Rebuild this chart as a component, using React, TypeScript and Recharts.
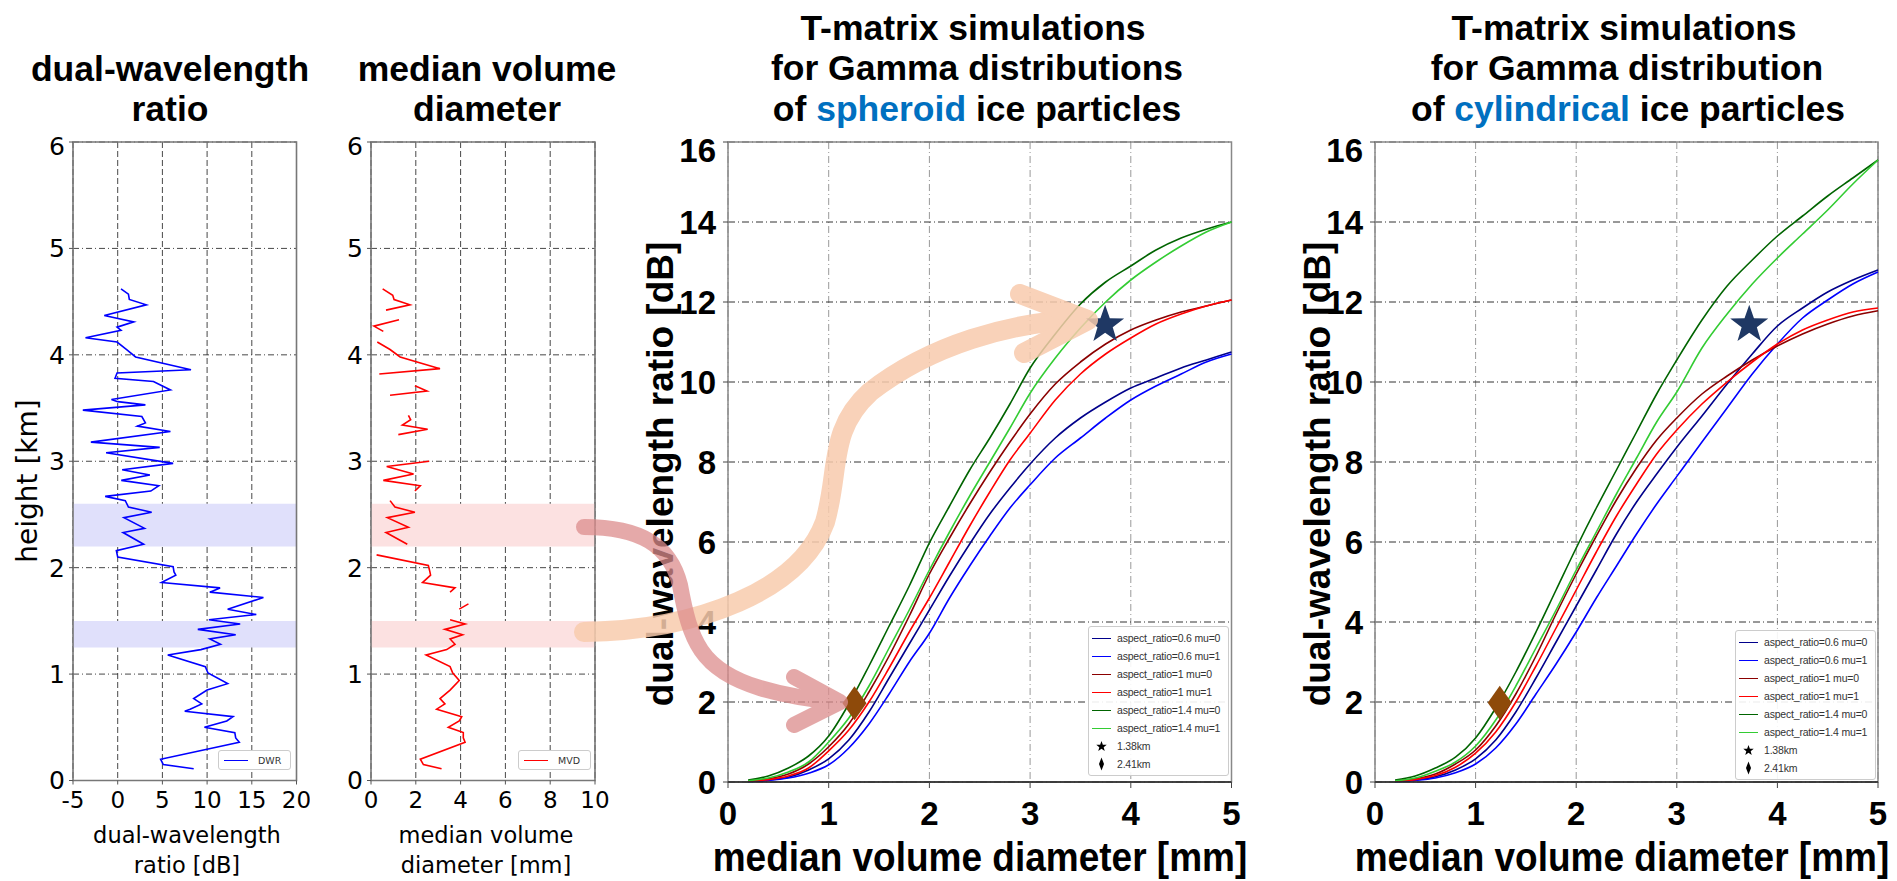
import React from 'react';
import {
  ComposedChart,
  ScatterChart,
  Line,
  Scatter,
  XAxis,
  YAxis,
  CartesianGrid,
  ReferenceArea,
} from 'recharts';

// ---- profile data (left two panels) ----
const dwrHeights = [
  4.62, 4.57, 4.52, 4.47, 4.37, 4.31, 4.26, 4.23, 4.16, 4.12, 4.05, 3.98, 3.86, 3.83, 3.78, 3.75, 3.67, 3.58,
  3.56, 3.53, 3.48, 3.42, 3.36, 3.33, 3.28, 3.18, 3.13, 3.08, 2.98, 2.92, 2.87, 2.82, 2.77, 2.72, 2.67, 2.63,
  2.57, 2.52, 2.47, 2.37, 2.33, 2.22, 2.16, 2.1, 2.01, 1.96, 1.93, 1.86, 1.81, 1.77, 1.72, 1.61, 1.56, 1.51,
  1.47, 1.42, 1.37, 1.33, 1.28, 1.23, 1.18, 1.07, 1.01, 0.91, 0.85, 0.77, 0.72, 0.67, 0.65, 0.6, 0.56, 0.5,
  0.45, 0.4, 0.36, 0.2, 0.15, 0.11,
];
const dwrValues = [
  0.37, 1.2, 1.3, 3.2, -1.5, 1.8, -0.07, 0.37, -3.6, -0.07, 1.0, 2.0, 8.2, -0.07, -0.3, 4.0, 5.9, -0.7, 0, 3.1,
  -3.9, 2.7, 3.1, 2.2, 5.9, -3.0, 4.7, -1.3, 6.2, 0.5, 3.6, 0.4, 4.6, 3.7, -1.4, 0.85, 1.2, 3.8, 0.7, 3.0, 0.6,
  2.9, -0.15, 0, 6.2, 6.3, 6.5, 4.9, 11.45, 10.3, 16.3, 12.3, 15.5, 10.2, 13.7, 8.96, 13.2, 10.3, 11.5, 9.3, 5.6,
  9.8, 10.1, 12.3, 10, 8.5, 9.4, 8.1, 7.5, 12.9, 12.2, 9.7, 13.1, 13.2, 13.6, 4.8, 5.1, 8.5,
];

// null = missing value (line break)
const mvdHeights = [
  4.62, 4.56, 4.52, 4.47, 4.42, 4.38, 4.33, 4.27, 4.22, 4.17, 4.12, 4.05, 3.98, 3.87, 3.82, 3.76, 3.71, 3.66,
  3.62, 3.5, 3.43, 3.39, 3.34, 3.3, 3.25, 3.1, 3.0, 2.95, 2.88, 2.82, 2.77, 2.72, 2.68, 2.63, 2.57, 2.52, 2.47,
  2.38, 2.33, 2.22, 2.17, 2.12, 2.02, 1.96, 1.93, 1.86, 1.81, 1.77, 1.7, 1.66, 1.61, 1.56, 1.51, 1.47, 1.42,
  1.37, 1.33, 1.28, 1.23, 1.18, 1.07, 1.01, 0.94, 0.85, 0.77, 0.72, 0.67, 0.6, 0.56, 0.5, 0.45, 0.4, 0.36, 0.2,
  0.15, 0.11,
];
const mvdValues = [
  0.52, 0.97, 1.03, 1.74, 0.67, null, 1.25, 0.13, 0.55, null, 0.28, 0.85, 1.3, 3.08, 0.37, null, 1.96, 2.5,
  0.85, null, 1.67, 1.77, 1.4, 2.53, 1.22, null, 2.6, 0.7, 1.9, 0.55, 2.2, 1.96, null, 0.85, 1.07, 1.96, 0.73,
  1.67, 0.67, 1.62, null, 0.25, 2.56, 2.63, 2.66, 2.3, 3.75, 3.53, null, 4.35, 3.94, null, 3.53, 4.2, 3.3, 4.09,
  3.53, 3.75, 3.38, 2.46, 3.53, 3.65, 3.94, 3.53, 3.08, 3.3, 2.93, 4.05, 3.94, 3.45, 4.12, 4.12, 4.2, 2.2, 2.34,
  3.15,
];

const bandHigh = [2.2, 2.6];
const bandLow = [1.25, 1.5];

// ---- T-matrix curves ----
const diameters = [0.2, 0.4, 0.6, 0.8, 1.0, 1.2, 1.4, 1.6, 1.8, 2.0, 2.2, 2.4, 2.6, 2.8, 3.0, 3.25, 3.5, 3.75, 4.0, 4.25, 4.5, 4.75, 5.0];

const sphAr06Mu0 = [0.02, 0.05, 0.12, 0.3, 0.58, 1.05, 1.75, 2.6, 3.45, 4.3, 5.15, 5.95, 6.7, 7.35, 7.95, 8.6, 9.1, 9.5, 9.85, 10.1, 10.35, 10.55, 10.75];
const sphAr06Mu1 = [0.01, 0.04, 0.1, 0.22, 0.43, 0.85, 1.45, 2.2, 3.0, 3.72, 4.6, 5.4, 6.15, 6.85, 7.43, 8.1, 8.6, 9.1, 9.55, 9.9, 10.2, 10.5, 10.7];
const sphAr1Mu0 = [0.03, 0.08, 0.2, 0.45, 0.88, 1.45, 2.25, 3.15, 4.15, 5.2, 6.1, 6.95, 7.75, 8.5, 9.2, 9.95, 10.5, 10.95, 11.3, 11.55, 11.75, 11.9, 12.05];
const sphAr1Mu1 = [0.02, 0.06, 0.15, 0.35, 0.78, 1.3, 2.0, 2.85, 3.75, 4.6, 5.5, 6.4, 7.25, 8.05, 8.72, 9.55, 10.2, 10.7, 11.1, 11.45, 11.7, 11.9, 12.05];
const sphAr14Mu0 = [0.05, 0.15, 0.35, 0.65, 1.15, 1.95, 2.9, 3.9, 4.9, 5.98, 6.9, 7.8, 8.6, 9.45, 10.35, 11.2, 11.95, 12.5, 12.9, 13.3, 13.6, 13.82, 14.0];
const sphAr14Mu1 = [0.03, 0.1, 0.25, 0.5, 1.0, 1.6, 2.4, 3.35, 4.3, 5.3, 6.25, 7.15, 8.0, 8.85, 9.72, 10.6, 11.35, 12.0, 12.55, 13.0, 13.4, 13.75, 14.0];

const cylAr06Mu0 = [0.02, 0.05, 0.13, 0.3, 0.58, 1.05, 1.75, 2.6, 3.5, 4.4, 5.3, 6.2, 7.0, 7.7, 8.37, 9.15, 9.95, 10.7, 11.4, 11.85, 12.25, 12.55, 12.8];
const cylAr06Mu1 = [0.01, 0.04, 0.1, 0.23, 0.45, 0.85, 1.45, 2.2, 2.95, 3.75, 4.6, 5.4, 6.2, 6.95, 7.64, 8.5, 9.35, 10.2, 10.95, 11.6, 12.05, 12.45, 12.75];
const cylAr1Mu0 = [0.03, 0.08, 0.2, 0.45, 0.8, 1.4, 2.2, 3.15, 4.2, 5.2, 6.15, 7.05, 7.85, 8.55, 9.1, 9.7, 10.15, 10.55, 10.9, 11.2, 11.45, 11.65, 11.78];
const cylAr1Mu1 = [0.02, 0.06, 0.16, 0.37, 0.72, 1.25, 2.0, 2.9, 3.85, 4.8, 5.75, 6.65, 7.45, 8.2, 8.8, 9.45, 10.0, 10.5, 10.95, 11.3, 11.55, 11.75, 11.85];
const cylAr14Mu0 = [0.05, 0.15, 0.35, 0.62, 1.1, 1.85, 2.75, 3.75, 4.8, 5.85, 6.85, 7.8, 8.75, 9.7, 10.55, 11.55, 12.4, 13.05, 13.65, 14.15, 14.65, 15.1, 15.55];
const cylAr14Mu1 = [0.03, 0.1, 0.27, 0.5, 0.9, 1.55, 2.4, 3.35, 4.3, 5.3, 6.25, 7.2, 8.1, 9.0, 9.75, 10.85, 11.7, 12.45, 13.1, 13.7, 14.3, 14.95, 15.55];

const seriesNames = [
  'aspect_ratio=0.6 mu=0',
  'aspect_ratio=0.6 mu=1',
  'aspect_ratio=1 mu=0',
  'aspect_ratio=1 mu=1',
  'aspect_ratio=1.4 mu=0',
  'aspect_ratio=1.4 mu=1',
];
const seriesColors = ['#00008B', '#0000FF', '#8B0000', '#FF0000', '#006400', '#33CC33'];

// observed points
const starPointSph = { d: 3.745, v: 11.43 };
const diamondPointSph = { d: 1.256, v: 1.97 };
const starPointCyl = { d: 3.72, v: 11.43 };
const diamondPointCyl = { d: 1.24, v: 1.98 };

const sphTable = diameters.map((d, i) => ({
  d,
  s0: sphAr06Mu0[i],
  s1: sphAr06Mu1[i],
  s2: sphAr1Mu0[i],
  s3: sphAr1Mu1[i],
  s4: sphAr14Mu0[i],
  s5: sphAr14Mu1[i],
}));
const cylTable = diameters.map((d, i) => ({
  d,
  s0: cylAr06Mu0[i],
  s1: cylAr06Mu1[i],
  s2: cylAr1Mu0[i],
  s3: cylAr1Mu1[i],
  s4: cylAr14Mu0[i],
  s5: cylAr14Mu1[i],
}));

const dwrPoints = dwrHeights.map((h, i) => ({ x: dwrValues[i], h }));

// split the MVD profile at missing values
const mvdSegments: { x: number; h: number }[][] = [];
{
  let cur: { x: number; h: number }[] = [];
  mvdHeights.forEach((h, i) => {
    const v = mvdValues[i];
    if (v === null) {
      if (cur.length) mvdSegments.push(cur);
      cur = [];
    } else cur.push({ x: v, h });
  });
  if (cur.length) mvdSegments.push(cur);
}

// ---- layout (plot rectangles in page px) ----
const box1 = { x0: 72.5, x1: 296, y0: 141.5, y1: 780 };
const box2 = { x0: 371, x1: 595, y0: 141.5, y1: 780 };
const box3 = { x0: 727.5, x1: 1231, y0: 142, y1: 782 };
const box4 = { x0: 1374.5, x1: 1877.5, y0: 142, y1: 782 };

const TOP = 10;
const RIGHT = 14;

const place = (b: typeof box1, yw: number, xh: number) => ({
  style: { position: 'absolute' as const, left: b.x0 - yw, top: b.y0 - TOP },
  width: b.x1 - b.x0 + yw + RIGHT,
  height: b.y1 - b.y0 + TOP + xh,
  margin: { top: TOP, right: RIGHT, left: 0, bottom: 0 },
});

const WIDE = "'DejaVu Sans', Verdana, sans-serif";
const ARIAL = "'Liberation Sans', Arial, Helvetica, sans-serif";

const noDot = () => <g />;

const starPath = (cx: number, cy: number, R: number, r: number) => {
  let d = '';
  for (let i = 0; i < 10; i++) {
    const rad = i % 2 === 0 ? R : r;
    const a = -Math.PI / 2 + (i * Math.PI) / 5;
    d += (i === 0 ? 'M' : 'L') + (cx + rad * Math.cos(a)).toFixed(2) + ',' + (cy + rad * Math.sin(a)).toFixed(2);
  }
  return d + 'Z';
};
const StarShape = (props: any) => <path d={starPath(props.cx, props.cy, 20, 8)} fill="#1F3864" />;
const DiamondShape = (props: any) => {
  const { cx, cy } = props;
  return <path d={`M${cx},${cy - 17}L${cx + 12},${cy}L${cx},${cy + 17}L${cx - 12},${cy}Z`} fill="#8E4A0A" />;
};

// ---- profile panel ----
const ProfilePanel = ({
  box,
  xDomain,
  xTicks,
  bandColor,
  children,
}: {
  box: typeof box1;
  xDomain: [number, number];
  xTicks: number[];
  bandColor: string;
  children: React.ReactNode;
}) => {
  const p = place(box, 62, 40);
  return (
    <div style={p.style}>
      <ScatterChart width={p.width} height={p.height} margin={p.margin}>
        <ReferenceArea x1={xDomain[0]} x2={xDomain[1]} y1={bandHigh[0]} y2={bandHigh[1]} fill={bandColor} fillOpacity={1} stroke="none" />
        <ReferenceArea x1={xDomain[0]} x2={xDomain[1]} y1={bandLow[0]} y2={bandLow[1]} fill={bandColor} fillOpacity={1} stroke="none" />
        <CartesianGrid horizontal={false} stroke="#333" strokeDasharray="6 3" strokeWidth={0.9} />
        <CartesianGrid vertical={false} stroke="#333" strokeDasharray="6 3 1 3" strokeWidth={0.9} />
        <XAxis
          type="number"
          dataKey="x"
          domain={xDomain}
          ticks={xTicks}
          allowDataOverflow
          height={40}
          tickSize={4}
          tickMargin={7}
          axisLine={false}
          tickLine={{ stroke: '#555' }}
          tick={{ fontSize: 23, fill: '#000', fontFamily: WIDE }}
        />
        <YAxis
          type="number"
          dataKey="h"
          domain={[0, 6]}
          ticks={[0, 1, 2, 3, 4, 5, 6]}
          width={62}
          tickSize={4}
          tickMargin={4}
          axisLine={false}
          tickLine={{ stroke: '#555' }}
          tick={{ fontSize: 25, fill: '#000', fontFamily: WIDE }}
        />
        <ReferenceArea x1={xDomain[0]} x2={xDomain[1]} y1={0} y2={6} fill="none" stroke="#777" strokeWidth={1.6} />
        {children}
      </ScatterChart>
    </div>
  );
};

// ---- T-matrix panel ----
const TmatrixPanel = ({
  box,
  table,
  star,
  diamond,
}: {
  box: typeof box1;
  table: typeof sphTable;
  star: { d: number; v: number };
  diamond: { d: number; v: number };
}) => {
  const p = place(box, 72, 56);
  return (
    <div style={p.style}>
      <ComposedChart width={p.width} height={p.height} margin={p.margin} data={table}>
        <CartesianGrid horizontal={false} stroke="#999" strokeDasharray="7 3 1 3" strokeWidth={1} />
        <CartesianGrid vertical={false} stroke="#333" strokeDasharray="7 3 1 3" strokeWidth={1} />
        <XAxis
          type="number"
          dataKey="d"
          domain={[0, 5]}
          ticks={[0, 1, 2, 3, 4, 5]}
          height={56}
          tickSize={6}
          tickMargin={14}
          axisLine={{ stroke: '#222', strokeWidth: 1.5 }}
          tickLine={{ stroke: '#444' }}
          tick={{ fontSize: 33, fontWeight: 'bold', fill: '#000', fontFamily: ARIAL }}
        />
        <YAxis
          type="number"
          domain={[0, 16]}
          ticks={[0, 2, 4, 6, 8, 10, 12, 14, 16]}
          width={72}
          tickSize={5}
          tickMargin={7}
          axisLine={false}
          tickLine={{ stroke: '#444' }}
          tick={{ fontSize: 33, fontWeight: 'bold', fill: '#000', fontFamily: ARIAL }}
        />
        <ReferenceArea x1={0} x2={5} y1={0} y2={16} fill="none" stroke="#888" strokeWidth={1.5} />
        {seriesNames.map((name, i) => (
          <Line
            key={name}
            type="monotone"
            dataKey={`s${i}`}
            name={name}
            stroke={seriesColors[i]}
            strokeWidth={1.6}
            dot={false}
            isAnimationActive={false}
          />
        ))}
        <Scatter data={[star]} dataKey="v" name="1.38km" shape={StarShape} isAnimationActive={false} />
        <Scatter data={[diamond]} dataKey="v" name="2.41km" shape={DiamondShape} isAnimationActive={false} />
      </ComposedChart>
    </div>
  );
};

const legendRow = { height: 18, display: 'flex', alignItems: 'center', whiteSpace: 'nowrap' as const };

const SmallLegend = ({ left, top }: { left: number; top: number }) => (
  <div
    style={{
      position: 'absolute',
      left,
      top,
      width: 139,
      padding: '2px 0',
      background: 'rgba(255,255,255,0.9)',
      border: '1px solid #ccc',
      borderRadius: 3,
      fontFamily: ARIAL,
      fontSize: 10.5,
      letterSpacing: -0.2,
      color: '#333',
    }}
  >
    {seriesNames.map((name, i) => (
      <div key={name} style={legendRow}>
        <div style={{ width: 19, height: 0, borderTop: `1.6px solid ${seriesColors[i]}`, margin: '0 6px 0 3px', flexShrink: 0 }} />
        <span>{name}</span>
      </div>
    ))}
    <div style={legendRow}>
      <svg width={19} height={14} style={{ margin: '0 6px 0 3px', flexShrink: 0 }}>
        <path d={starPath(9.5, 7.5, 5.5, 2.3)} fill="#000" />
      </svg>
      <span>1.38km</span>
    </div>
    <div style={legendRow}>
      <svg width={19} height={16} style={{ margin: '0 6px 0 3px', flexShrink: 0 }}>
        <path d="M9.5,1.5L12,8L9.5,14.5L7,8Z" fill="#000" />
      </svg>
      <span>2.41km</span>
    </div>
  </div>
);

const ProfileLegend = ({ left, color, label }: { left: number; color: string; label: string }) => (
  <div
    style={{
      position: 'absolute',
      left,
      top: 750,
      width: 71,
      height: 18,
      display: 'flex',
      alignItems: 'center',
      background: '#fff',
      border: '1px solid #ccc',
      borderRadius: 3,
      fontFamily: WIDE,
      fontSize: 9.5,
      color: '#333',
    }}
  >
    <div style={{ width: 24, height: 0, borderTop: `1.5px solid ${color}`, margin: '0 10px 0 5px' }} />
    <span>{label}</span>
  </div>
);

const Text = ({
  x,
  y,
  size,
  font,
  bold,
  rotate,
  sx = 1,
  sy = 1,
  children,
}: {
  x: number;
  y: number;
  size: number;
  font: string;
  bold?: boolean;
  rotate?: boolean;
  sx?: number;
  sy?: number;
  children: React.ReactNode;
}) => (
  <div
    style={{
      position: 'absolute',
      left: x,
      top: y,
      transform: `translate(-50%, -50%)${rotate ? ' rotate(-90deg)' : ''} scale(${sx}, ${sy})`,
      whiteSpace: 'nowrap',
      fontFamily: font,
      fontSize: size,
      fontWeight: bold ? 'bold' : 'normal',
      lineHeight: 0.95,
      color: '#000',
    }}
  >
    {children}
  </div>
);

const Arrows = () => (
  <svg width={1897} height={881} style={{ position: 'absolute', left: 0, top: 0, pointerEvents: 'none' }}>
    <g fill="none" stroke="#F8CBAD" strokeWidth={20} strokeLinecap="round" strokeLinejoin="round" opacity={0.85}>
      <path d="M584,632 C700,630 800,590 825,522 C840,470 828,430 870,392 C930,345 1010,322 1084,319" />
      <path d="M1020,294 L1088,320 L1024,353" />
    </g>
    <g fill="none" stroke="#DC8C8C" strokeWidth={16} strokeLinecap="round" strokeLinejoin="round" opacity={0.75}>
      <path d="M584,527 C640,527 670,545 680,585 C690,640 700,670 760,688 C790,697 815,700 838,702" />
      <path d="M794,677 L840,702 L794,725" />
    </g>
  </svg>
);

const App = () => {
  const blue = '#0070C0';
  return (
    <div style={{ position: 'absolute', left: 0, top: 0, width: 1897, height: 881, background: '#fff', overflow: 'hidden' }}>
      {/* titles */}
      <Text x={170} y={70} size={35.5} font={ARIAL} bold>dual-wavelength</Text>
      <Text x={170} y={110} size={35.5} font={ARIAL} bold>ratio</Text>
      <Text x={487} y={70} size={35.5} font={ARIAL} bold>median volume</Text>
      <Text x={487} y={110} size={35.5} font={ARIAL} bold>diameter</Text>

      <Text x={973} y={29} size={35.5} font={ARIAL} bold>T-matrix simulations</Text>
      <Text x={977} y={69} size={35.5} font={ARIAL} bold>for Gamma distributions</Text>
      <Text x={977} y={110} size={35.5} font={ARIAL} bold>
        of <span style={{ color: blue }}>spheroid</span> ice particles
      </Text>
      <Text x={1624} y={29} size={35.5} font={ARIAL} bold>T-matrix simulations</Text>
      <Text x={1627} y={69} size={35.5} font={ARIAL} bold>for Gamma distribution</Text>
      <Text x={1628} y={110} size={35.5} font={ARIAL} bold>
        of <span style={{ color: blue }}>cylindrical</span> ice particles
      </Text>

      <ProfilePanel box={box1} xDomain={[-5, 20]} xTicks={[-5, 0, 5, 10, 15, 20]} bandColor="#E0E0FB">
        <Scatter
          data={dwrPoints}
          name="DWR"
          line={{ stroke: '#0000FF', strokeWidth: 1.6 }}
          lineType="joint"
          shape={noDot}
          isAnimationActive={false}
        />
      </ProfilePanel>
      <ProfilePanel box={box2} xDomain={[0, 10]} xTicks={[0, 2, 4, 6, 8, 10]} bandColor="#FCE1E1">
        {mvdSegments.map((seg, i) => (
          <Scatter
            key={i}
            data={seg}
            name="MVD"
            line={{ stroke: '#FF0000', strokeWidth: 1.6 }}
            lineType="joint"
            shape={noDot}
            isAnimationActive={false}
          />
        ))}
      </ProfilePanel>

      <TmatrixPanel box={box3} table={sphTable} star={starPointSph} diamond={diamondPointSph} />
      <TmatrixPanel box={box4} table={cylTable} star={starPointCyl} diamond={diamondPointCyl} />

      <ProfileLegend left={218} color="#0000FF" label="DWR" />
      <ProfileLegend left={518} color="#FF0000" label="MVD" />
      <SmallLegend left={1088} top={626} />
      <SmallLegend left={1735} top={630} />

      {/* axis titles */}
      <Text x={28} y={481} size={28} font={WIDE} rotate>height [km]</Text>
      <Text x={187} y={836} size={22.5} font={WIDE}>dual-wavelength</Text>
      <Text x={187} y={866} size={22.5} font={WIDE}>ratio [dB]</Text>
      <Text x={486} y={836} size={22.5} font={WIDE}>median volume</Text>
      <Text x={486} y={866} size={22.5} font={WIDE}>diameter [mm]</Text>

      <Text x={661} y={474} size={37} font={ARIAL} bold rotate>dual-wavelength ratio [dB]</Text>
      <Text x={1318} y={474} size={37} font={ARIAL} bold rotate>dual-wavelength ratio [dB]</Text>
      <Text x={980} y={858} size={37} font={ARIAL} bold sy={1.08}>median volume diameter [mm]</Text>
      <Text x={1622} y={858} size={37} font={ARIAL} bold sy={1.08}>median volume diameter [mm]</Text>

      <Arrows />
    </div>
  );
};

export default App;
